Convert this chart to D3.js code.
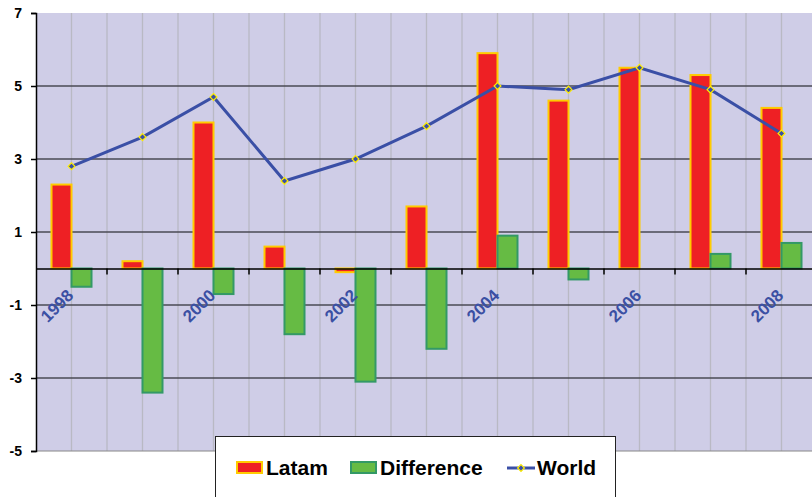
<!DOCTYPE html>
<html><head><meta charset="utf-8">
<script src="https://cdn.jsdelivr.net/npm/d3@7"></script>
<style>html,body{margin:0;padding:0;background:#fff;}svg{display:block;}</style>
</head><body>
<svg id="c" width="812" height="497"></svg>
<script>
const years = [1998,1999,2000,2001,2002,2003,2004,2005,2006,2007,2008];
const latam = [2.3,0.2,4.0,0.6,-0.1,1.7,5.9,4.6,5.5,5.3,4.4];
const difference = [-0.5,-3.4,-0.7,-1.8,-3.1,-2.2,0.9,-0.3,0,0.4,0.7];
const world = [2.8,3.6,4.7,2.4,3.0,3.9,5.0,4.9,5.5,4.9,3.7];
const yTicks = [-5,-3,-1,1,3,5,7];
const xLabels = [1998,2000,2002,2004,2006,2008];

const svg = d3.select("#c");
const L = 36, R = 817, T = 13, B = 451;
const x = d3.scaleBand().domain(years).range([L, R]).padding(0);
const y = d3.scaleLinear().domain([-5, 7]).range([B, T]);
const bw = 20;
const lf = "Liberation Sans, Arial, sans-serif";

svg.append("rect").attr("x", L).attr("y", T).attr("width", R - L).attr("height", B - T).attr("fill", "#cfcde7");

// vertical light grid at centers and boundaries
const vlines = [];
years.forEach(yr => { vlines.push(x(yr) + x.bandwidth() / 2); vlines.push(x(yr) + x.bandwidth()); });
svg.append("g").selectAll("line").data(vlines).join("line")
  .attr("x1", d => d).attr("x2", d => d).attr("y1", T).attr("y2", B)
  .attr("stroke", "#b9b9c4").attr("stroke-width", 1.3);

// horizontal grid
svg.append("g").selectAll("line").data(yTicks.filter(t => t > -5 && t < 7)).join("line")
  .attr("x1", L).attr("x2", R).attr("y1", d => y(d)).attr("y2", d => y(d))
  .attr("stroke", "#4a4a55").attr("stroke-width", 1.6);
svg.append("line").attr("x1", L).attr("x2", R).attr("y1", B).attr("y2", B).attr("stroke", "#888").attr("stroke-width", 1);

// y axis
const ya = svg.append("g").attr("transform", `translate(${L},0)`)
  .call(d3.axisLeft(y).tickValues(yTicks).tickSize(5).tickPadding(9).tickFormat(d => String(d)));
ya.select(".domain").attr("stroke", "#000").attr("stroke-width", 1.5);
ya.selectAll(".tick line").attr("stroke", "#000").attr("stroke-width", 1.5);
ya.selectAll("text").attr("font-family", lf).attr("font-weight", "bold").attr("font-size", 14).attr("fill", "#000");

// bars
svg.append("g").selectAll("rect").data(years).join("rect")
  .attr("x", d => x(d) + x.bandwidth() / 2 - bw)
  .attr("y", (d, i) => y(Math.max(0, latam[i])))
  .attr("width", bw)
  .attr("height", (d, i) => Math.abs(y(latam[i]) - y(0)))
  .attr("fill", "#ee2024").attr("stroke", "#ffcc00").attr("stroke-width", 2);
svg.append("g").selectAll("rect").data(years).join("rect")
  .attr("x", d => x(d) + x.bandwidth() / 2)
  .attr("y", (d, i) => y(Math.max(0, difference[i])))
  .attr("width", bw)
  .attr("height", (d, i) => Math.abs(y(difference[i]) - y(0)))
  .attr("fill", "#66bb44").attr("stroke", "#339966").attr("stroke-width", 2)
  .attr("visibility", (d, i) => difference[i] === 0 ? "hidden" : "visible");

// x axis at zero
const xa = svg.append("g").attr("transform", `translate(0,${y(0)})`)
  .call(d3.axisBottom(x).tickValues([]).tickSize(0));
xa.select(".domain").attr("stroke", "#000").attr("stroke-width", 1.6);
svg.append("g").selectAll("line").data(years.slice(1)).join("line")
  .attr("x1", d => x(d)).attr("x2", d => x(d)).attr("y1", y(0)).attr("y2", y(0) + 6)
  .attr("stroke", "#000").attr("stroke-width", 1.5);
svg.append("g").selectAll("text").data(xLabels).join("text")
  .attr("transform", d => `translate(${x(d) + x.bandwidth() / 2 + 3},${y(0) + 28}) rotate(-45)`)
  .attr("text-anchor", "end")
  .attr("font-family", lf).attr("font-weight", "bold").attr("font-size", 17)
  .attr("fill", "#3b50a3").text(d => d);

// world line
const line = d3.line().x((d, i) => x(years[i]) + x.bandwidth() / 2).y(d => y(d));
svg.append("path").datum(world).attr("d", line).attr("fill", "none").attr("stroke", "#3a4fa6").attr("stroke-width", 3);
svg.append("g").selectAll("path").data(world).join("path")
  .attr("d", d3.symbol(d3.symbolDiamond2, 30))
  .attr("transform", (d, i) => `translate(${x(years[i]) + x.bandwidth() / 2},${y(d)})`)
  .attr("fill", "#3a4fa6").attr("stroke", "#ffee00").attr("stroke-width", 1.2);

// legend
const lg = svg.append("g");
lg.append("rect").attr("x", 215.5).attr("y", 436.5).attr("width", 400).attr("height", 70)
  .attr("fill", "#fff").attr("stroke", "#222").attr("stroke-width", 1);
lg.append("rect").attr("x", 237).attr("y", 462).attr("width", 25).attr("height", 11).attr("fill", "#ee2024").attr("stroke", "#ffcc00").attr("stroke-width", 2);
lg.append("text").attr("x", 266).attr("y", 475).attr("font-family", lf).attr("font-weight", "bold").attr("font-size", 21).attr("fill", "#000").text("Latam");
lg.append("rect").attr("x", 351).attr("y", 462).attr("width", 25).attr("height", 11).attr("fill", "#66bb44").attr("stroke", "#339966").attr("stroke-width", 2);
lg.append("text").attr("x", 380).attr("y", 475).attr("font-family", lf).attr("font-weight", "bold").attr("font-size", 21).attr("fill", "#000").text("Difference");
lg.append("line").attr("x1", 507).attr("x2", 535).attr("y1", 468).attr("y2", 468).attr("stroke", "#3a4fa6").attr("stroke-width", 3);
lg.append("path").attr("d", d3.symbol(d3.symbolDiamond2, 30)).attr("transform", "translate(521,468)")
  .attr("fill", "#3a4fa6").attr("stroke", "#ffee00").attr("stroke-width", 1.2);
lg.append("text").attr("x", 537).attr("y", 475).attr("font-family", lf).attr("font-weight", "bold").attr("font-size", 21).attr("fill", "#000").text("World");
</script>
</body></html>
